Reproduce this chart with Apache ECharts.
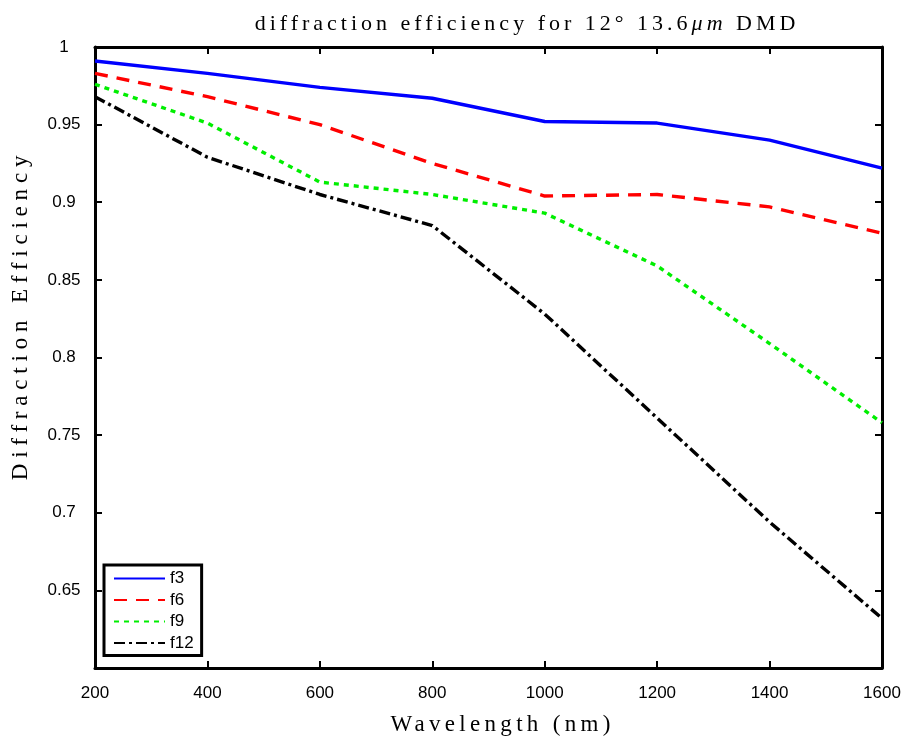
<!DOCTYPE html>
<html><head><meta charset="utf-8">
<script src="https://cdn.jsdelivr.net/npm/echarts@6/dist/echarts.min.js"></script>
<style>html,body{margin:0;padding:0;background:#fff}#c{width:906px;height:738px}</style>
</head><body><div id="c"></div>
<script>
const wavelengths = [200, 400, 600, 800, 1000, 1200, 1400, 1600];
const f3  = [0.991, 0.983, 0.974, 0.967, 0.952, 0.951, 0.940, 0.922];
const f6  = [0.983, 0.968, 0.950, 0.925, 0.904, 0.905, 0.897, 0.880];
const f9  = [0.976, 0.951, 0.913, 0.905, 0.893, 0.859, 0.809, 0.758];
const f12 = [0.968, 0.929, 0.905, 0.885, 0.828, 0.761, 0.694, 0.632];
const seriesNames = ['f3', 'f6', 'f9', 'f12'];
const yTicks = [0.65, 0.7, 0.75, 0.8, 0.85, 0.9, 0.95, 1];
const titleText = 'diffraction efficiency for 12° 13.6μm DMD';
const titleParts = [['diffraction efficiency for 12° 13.6', false], ['μm', true], [' DMD', false]];
const xName = 'Wavelength (nm)';
const yName = 'Diffraction Efficiency';

const sans = "'Liberation Sans', Arial, sans-serif";
const serif = "'Liberation Serif', 'Times New Roman', serif";
const tickFont = {fontFamily: sans, fontSize: 17, color: '#000'};

// LaTeX-style wide letter spacing for the serif labels (canvas letterSpacing), italic "μm".
const spacing = {};
spacing[xName] = '4.3px';
spacing[yName] = '5.8px';
const origFill = CanvasRenderingContext2D.prototype.fillText;
CanvasRenderingContext2D.prototype.fillText = function (text, x, y, maxW) {
  if (text === titleText) {
    this.save();
    this.letterSpacing = '4px';
    const fonts = titleParts.map(p => (p[1] ? 'italic ' : '') + "22px " + serif);
    let total = 0;
    const widths = titleParts.map((p, i) => { this.font = fonts[i]; const w = this.measureText(p[0]).width; total += w; return w; });
    let cx = this.textAlign === 'center' ? x - total / 2 : (this.textAlign === 'right' || this.textAlign === 'end') ? x - total : x;
    this.textAlign = 'left';
    titleParts.forEach((p, i) => { this.font = fonts[i]; origFill.call(this, p[0], cx, y); cx += widths[i]; });
    this.restore();
    return;
  }
  if (spacing[text]) {
    this.save();
    this.letterSpacing = spacing[text];
    origFill.call(this, text, x, y);
    this.restore();
    return;
  }
  return origFill.apply(this, arguments);
};

const chart = echarts.init(document.getElementById('c'));
const pair = arr => wavelengths.map((w, i) => [w, arr[i]]);

function mk(name, data, color, type) {
  return {
    name, type: 'line', data: pair(data), symbol: 'none', showSymbol: false,
    xAxisIndex: 0, yAxisIndex: 0,
    lineStyle: {color, width: 3.4, type}, itemStyle: {color}, animation: false
  };
}

chart.setOption({
  animation: false,
  title: {
    text: titleText,
    left: 522, top: 8, textAlign: 'center',
    textStyle: {fontFamily: serif, fontSize: 22, fontWeight: 'normal', color: '#000'}
  },
  grid: {left: 95, right: 24, top: 47, bottom: 70, containLabel: false, outerBoundsMode: 'none'},
  legend: {
    orient: 'vertical', left: 104, top: 565,
    backgroundColor: '#fff', borderColor: '#000', borderWidth: 3, borderRadius: 0,
    padding: [5, 8, 4, 9], itemWidth: 51, itemHeight: 14, itemGap: 4.5,
    itemStyle: {opacity: 0},
    textStyle: {fontFamily: sans, fontSize: 17, color: '#000'},
    data: seriesNames
  },
  graphic: [{
    type: 'text', x: 21, y: 315, rotation: Math.PI / 2, silent: true,
    style: {text: yName, font: "23px " + serif, fill: '#000', align: 'center', verticalAlign: 'middle'}
  }],
  xAxis: [{
    type: 'value', min: 200, max: 1600, interval: 200,
    name: xName, nameLocation: 'middle', nameGap: 45,
    nameTextStyle: {fontFamily: serif, fontSize: 23, color: '#000', padding: [0, 0, 0, 28]},
    axisLine: {show: true, lineStyle: {color: '#000', width: 3}},
    axisTick: {show: true, inside: true, length: 7, lineStyle: {color: '#000', width: 2}},
    axisLabel: Object.assign({margin: 17, formatter: v => String(v)}, tickFont),
    splitLine: {show: false}
  }, {
    type: 'value', position: 'top', min: 200, max: 1600, interval: 200,
    axisLine: {show: true, lineStyle: {color: '#000', width: 3}},
    axisTick: {show: true, inside: true, length: 7, lineStyle: {color: '#000', width: 2}},
    axisLabel: {show: false}, splitLine: {show: false}
  }],
  yAxis: [{
    type: 'value', min: 0.6, max: 1, interval: 0.05,
    axisLine: {show: true, lineStyle: {color: '#000', width: 3}},
    axisTick: {show: true, inside: true, length: 7, lineStyle: {color: '#000', width: 2}},
    axisLabel: Object.assign({
      margin: 31, align: 'center',
      formatter: v => {
        const r = Math.round(v * 100) / 100;
        return yTicks.some(t => Math.abs(t - r) < 1e-6) ? String(r) : '';
      }
    }, tickFont),
    splitLine: {show: false}
  }, {
    type: 'value', position: 'right', min: 0.6, max: 1, interval: 0.05,
    axisLine: {show: true, lineStyle: {color: '#000', width: 3}},
    axisTick: {show: true, inside: true, length: 7, lineStyle: {color: '#000', width: 2}},
    axisLabel: {show: false}, splitLine: {show: false}
  }],
  series: [
    mk('f3', f3, '#0000ff', 'solid'),
    mk('f6', f6, '#ff0000', [13, 9]),
    mk('f9', f9, '#00ee00', [5, 5]),
    mk('f12', f12, '#000000', [11, 4, 3, 4])
  ]
});
</script></body></html>
